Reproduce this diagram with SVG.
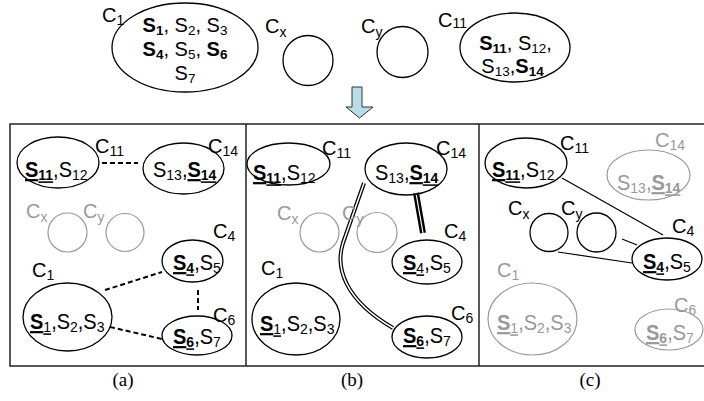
<svg xmlns="http://www.w3.org/2000/svg" width="704" height="401" viewBox="0 0 704 401">
<style>
text{font-family:"Liberation Sans",Arial,sans-serif;font-size:20px;fill:#000}
.g text,text.g{fill:#999}
.n{fill:none;stroke:#000;stroke-width:1.3}
.gn{fill:none;stroke:#999;stroke-width:1.2}
.b{font-weight:bold}
.s{font-size:13.5px}
.ps{font-size:14px}
.ls{font-size:14px}
.u{text-decoration:underline}
.dash{stroke:#000;stroke-width:2;stroke-dasharray:5,3;fill:none}
.ln{stroke:#000;stroke-width:1.2;fill:none}
.cap{font-family:"Liberation Serif","Times New Roman",serif;font-size:19px;text-anchor:middle}
.m{text-anchor:middle}
</style>
<!-- top row -->
<g id="top-C1">
<ellipse class="n" cx="185" cy="47.5" rx="73" ry="44.5"/>
<text x="102" y="22">C<tspan class="ls" dy="3">1</tspan></text>
<text class="m" x="185" y="32"><tspan class="b">S</tspan><tspan class="b s" dy="3">1</tspan><tspan dy="-3">, S</tspan><tspan class="s" dy="3">2</tspan><tspan dy="-3">, S</tspan><tspan class="s" dy="3">3</tspan></text>
<text class="m" x="185" y="56"><tspan class="b">S</tspan><tspan class="b s" dy="3">4</tspan><tspan dy="-3">, S</tspan><tspan class="s" dy="3">5</tspan><tspan dy="-3">, </tspan><tspan class="b">S</tspan><tspan class="b s" dy="3">6</tspan></text>
<text class="m" x="185" y="80">S<tspan class="s" dy="3">7</tspan></text>
</g>
<g id="top-Cx">
<circle class="n" cx="308" cy="60.5" r="25"/>
<text x="265" y="33">C<tspan class="ls" dy="4">x</tspan></text>
</g>
<g id="top-Cy">
<circle class="n" cx="402.5" cy="52" r="25.5"/>
<text x="361" y="33">C<tspan class="ls" dy="4">y</tspan></text>
</g>
<g id="top-C11">
<ellipse class="n" cx="515" cy="47.5" rx="55" ry="34.5"/>
<text x="438" y="27">C<tspan class="ls" dy="1">11</tspan></text>
<text class="m" x="515.5" y="50"><tspan class="b">S</tspan><tspan class="b s" dy="3">11</tspan><tspan dy="-3">, S</tspan><tspan class="s" dy="3">12</tspan><tspan dy="-3">,</tspan></text>
<text class="m" x="512.5" y="73">S<tspan class="s" dy="3">13</tspan><tspan dy="-3">,</tspan><tspan class="b">S</tspan><tspan class="b s" dy="3">14</tspan></text>
</g>
<g id="arrow">
<path d="M352,87 H362 V107 H373 L359.5,118 L346,107 H352 Z" fill="#b7dde8" stroke="#333" stroke-width="1"/>
</g>
<g id="frame">
<rect x="10" y="124" width="700" height="242" fill="none" stroke="#222" stroke-width="1.5"/>
<line x1="246" y1="124" x2="246" y2="366" stroke="#222" stroke-width="1.5"/>
<line x1="479" y1="124" x2="479" y2="366" stroke="#222" stroke-width="1.5"/>
</g>
<!-- connectors -->
<g id="connectors">
<line class="dash" x1="102" y1="163" x2="138" y2="163"/>
<line class="dash" x1="105" y1="290" x2="162" y2="272"/>
<line class="dash" x1="110" y1="327" x2="162" y2="339"/>
<line class="dash" x1="198" y1="290" x2="198" y2="310"/>
<path d="M364,183 L343,243 C335,268 345,300 393,328" fill="none" stroke="#000" stroke-width="4"/>
<path d="M364,183 L343,243 C335,268 345,300 393,328" fill="none" stroke="#fff" stroke-width="1.5"/>
<line x1="416" y1="193" x2="423" y2="233" stroke="#000" stroke-width="6"/>
<line x1="416" y1="193" x2="423" y2="233" stroke="#fff" stroke-width="1.2"/>
<line class="ln" x1="562" y1="178" x2="663" y2="235"/>
<line class="ln" x1="622" y1="239" x2="637" y2="245"/>
<line class="ln" x1="558" y1="252" x2="632" y2="263"/>
</g>
<!-- panel a -->
<g id="a-C11">
<ellipse class="n" cx="58" cy="162.5" rx="41" ry="25.5"/>
<text x="95" y="153">C<tspan class="ls" dy="3">11</tspan></text>
<text x="25" y="177" transform="matrix(1,0,0,1.1,0,-17.7)"><tspan class="b u">S</tspan><tspan class="b ps u" dy="3">11</tspan><tspan dy="-3">,S</tspan><tspan class="ps" dy="3">12</tspan></text>
</g>
<g id="a-C14">
<ellipse class="n" cx="183.5" cy="168.5" rx="40.5" ry="25.5"/>
<text x="208" y="153">C<tspan class="ls" dy="3">14</tspan></text>
<text x="153" y="177" transform="matrix(1,0,0,1.1,0,-17.7)">S<tspan class="ps" dy="3">13</tspan><tspan dy="-3">,</tspan><tspan class="b u">S</tspan><tspan class="b ps u" dy="3">14</tspan></text>
</g>
<g id="a-Cx" class="g">
<circle class="gn" cx="67.5" cy="232.5" r="19.5"/>
<text x="26" y="218">C<tspan class="ls" dy="4">x</tspan></text>
</g>
<g id="a-Cy" class="g">
<circle class="gn" cx="125" cy="232.5" r="19"/>
<text x="83" y="218">C<tspan class="ls" dy="4">y</tspan></text>
</g>
<g id="a-C4">
<ellipse class="n" cx="192.5" cy="261" rx="30.5" ry="21"/>
<text x="213" y="238">C<tspan class="ls" dy="3">4</tspan></text>
<text x="173" y="270" transform="matrix(1,0,0,1.1,0,-27)"><tspan class="b u">S</tspan><tspan class="b ps u" dy="3">4</tspan><tspan dy="-3">,S</tspan><tspan class="ps" dy="3">5</tspan></text>
</g>
<g id="a-C1">
<ellipse class="n" cx="67.5" cy="317" rx="44.5" ry="34"/>
<text x="32" y="277">C<tspan class="ls" dy="3">1</tspan></text>
<text x="30" y="329" transform="matrix(1,0,0,1.1,0,-32.9)"><tspan class="b u">S</tspan><tspan class="ps u" dy="3">1</tspan><tspan dy="-3">,S</tspan><tspan class="ps" dy="3">2</tspan><tspan dy="-3">,S</tspan><tspan class="ps" dy="3">3</tspan></text>
</g>
<g id="a-C6">
<ellipse class="n" cx="197" cy="335.5" rx="35" ry="19.5"/>
<text x="213" y="322">C<tspan class="ls" dy="3">6</tspan></text>
<text x="173" y="344" transform="matrix(1,0,0,1.1,0,-34.4)"><tspan class="b u">S</tspan><tspan class="b ps u" dy="3">6</tspan><tspan dy="-3">,S</tspan><tspan class="ps" dy="3">7</tspan></text>
</g>
<!-- panel b -->
<g id="b-C11">
<ellipse class="n" cx="288.5" cy="164" rx="41.5" ry="21"/>
<text x="322" y="155">C<tspan class="ls" dy="3">11</tspan></text>
<text x="253" y="180" transform="matrix(1,0,0,1.1,0,-18)"><tspan class="b u">S</tspan><tspan class="b ps u" dy="3">11</tspan><tspan dy="-3">,S</tspan><tspan class="ps" dy="3">12</tspan></text>
</g>
<g id="b-C14">
<ellipse class="n" cx="406" cy="169" rx="41" ry="26"/>
<text x="436" y="155">C<tspan class="ls" dy="3">14</tspan></text>
<text x="375" y="180" transform="matrix(1,0,0,1.1,0,-18)">S<tspan class="ps" dy="3">13</tspan><tspan dy="-3">,</tspan><tspan class="b u">S</tspan><tspan class="b ps u" dy="3">14</tspan></text>
</g>
<g id="b-Cx" class="g">
<circle class="gn" cx="319.5" cy="232.5" r="19.5"/>
<text x="277" y="220">C<tspan class="ls" dy="4">x</tspan></text>
</g>
<g id="b-Cy" class="g">
<circle class="gn" cx="377" cy="232.5" r="20"/>
<text x="342" y="220">C<tspan class="ls" dy="4">y</tspan></text>
</g>
<g id="b-C4">
<ellipse class="n" cx="427" cy="262" rx="35" ry="22"/>
<text x="444" y="238">C<tspan class="ls" dy="3">4</tspan></text>
<text x="403" y="270" transform="matrix(1,0,0,1.1,0,-27)"><tspan class="b u">S</tspan><tspan class="ps u" dy="3">4</tspan><tspan dy="-3">,S</tspan><tspan class="ps" dy="3">5</tspan></text>
</g>
<g id="b-C1">
<ellipse class="n" cx="296" cy="319" rx="44" ry="36"/>
<text x="261" y="275">C<tspan class="ls" dy="3">1</tspan></text>
<text x="260" y="331" transform="matrix(1,0,0,1.1,0,-33.1)"><tspan class="b u">S</tspan><tspan class="ps u" dy="3">1</tspan><tspan dy="-3">,S</tspan><tspan class="ps" dy="3">2</tspan><tspan dy="-3">,S</tspan><tspan class="ps" dy="3">3</tspan></text>
</g>
<g id="b-C6">
<ellipse class="n" cx="427" cy="337" rx="35" ry="21"/>
<text x="451" y="320">C<tspan class="ls" dy="3">6</tspan></text>
<text x="403" y="343" transform="matrix(1,0,0,1.1,0,-34.3)"><tspan class="b u">S</tspan><tspan class="b ps u" dy="3">6</tspan><tspan dy="-3">,S</tspan><tspan class="ps" dy="3">7</tspan></text>
</g>
<!-- panel c -->
<g id="c-C11">
<ellipse class="n" cx="526" cy="163" rx="41" ry="25"/>
<text x="560" y="150">C<tspan class="ls" dy="3">11</tspan></text>
<text x="492" y="177" transform="matrix(1,0,0,1.1,0,-17.7)"><tspan class="b u">S</tspan><tspan class="b ps u" dy="3">11</tspan><tspan dy="-3">,S</tspan><tspan class="ps" dy="3">12</tspan></text>
</g>
<g id="c-C14" class="g">
<ellipse class="gn" cx="648.5" cy="175" rx="41.5" ry="25"/>
<text x="655" y="147">C<tspan class="ls" dy="3">14</tspan></text>
<text x="617" y="190" transform="matrix(1,0,0,1.1,0,-19)">S<tspan class="ps" dy="3">13</tspan><tspan dy="-3">,</tspan><tspan class="b u">S</tspan><tspan class="b ps u" dy="3">14</tspan></text>
</g>
<g id="c-Cx">
<circle class="n" cx="549" cy="232.5" r="19"/>
<text x="508" y="215">C<tspan class="ls" dy="4">x</tspan></text>
</g>
<g id="c-Cy">
<circle class="n" cx="596.5" cy="232.5" r="19.5"/>
<text x="561" y="215">C<tspan class="ls" dy="4">y</tspan></text>
</g>
<g id="c-C4">
<ellipse class="n" cx="667" cy="259" rx="35" ry="21"/>
<text x="672" y="233">C<tspan class="ls" dy="3">4</tspan></text>
<text x="643" y="269" transform="matrix(1,0,0,1.1,0,-26.9)"><tspan class="b u">S</tspan><tspan class="b ps u" dy="3">4</tspan><tspan dy="-3">,S</tspan><tspan class="ps" dy="3">5</tspan></text>
</g>
<g id="c-C1" class="g">
<ellipse class="gn" cx="532.5" cy="319" rx="44.5" ry="36"/>
<text x="497" y="277">C<tspan class="ls" dy="3">1</tspan></text>
<text x="497" y="330" transform="matrix(1,0,0,1.1,0,-33)"><tspan class="b u">S</tspan><tspan class="ps u" dy="3">1</tspan><tspan dy="-3">,S</tspan><tspan class="ps" dy="3">2</tspan><tspan dy="-3">,S</tspan><tspan class="ps" dy="3">3</tspan></text>
</g>
<g id="c-C6" class="g">
<ellipse class="gn" cx="669" cy="329.5" rx="34" ry="20.5"/>
<text x="674" y="312">C<tspan class="ls" dy="3">6</tspan></text>
<text x="646" y="340" transform="matrix(1,0,0,1.1,0,-34)"><tspan class="b u">S</tspan><tspan class="b ps u" dy="3">6</tspan><tspan dy="-3">,S</tspan><tspan class="ps" dy="3">7</tspan></text>
</g>
<g id="captions">
<text class="cap" x="123" y="386">(a)</text>
<text class="cap" x="352" y="386">(b)</text>
<text class="cap" x="590" y="386">(c)</text>
</g>
</svg>
